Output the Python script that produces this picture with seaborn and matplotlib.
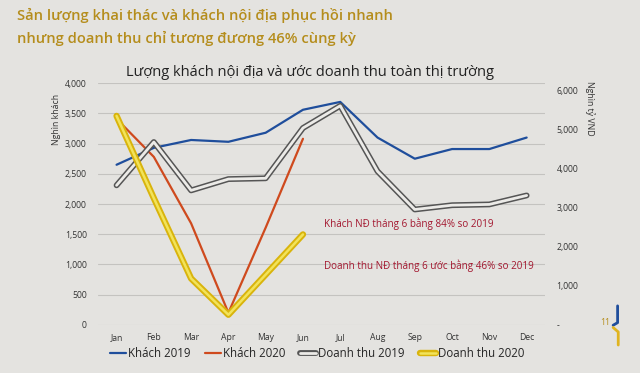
import matplotlib
matplotlib.use("Agg")
import matplotlib.pyplot as plt
from matplotlib.lines import Line2D
from matplotlib.ticker import FuncFormatter
import numpy as np
import pandas as pd
import seaborn as sns

months = ["Jan", "Feb", "Mar", "Apr", "May", "Jun",
          "Jul", "Aug", "Sep", "Oct", "Nov", "Dec"]
khach_2019 = [2650, 2930, 3060, 3030, 3180, 3560, 3690, 3100, 2750, 2910, 2910, 3100]
khach_2020 = [3410, 2780, 1680, 200, 1610, 3080]
doanhthu_2019 = [3580, 4690, 3450, 3740, 3760, 5050, 5620, 3940, 2960, 3070, 3090, 3320]
doanhthu_2020 = [5360, 3250, 1190, 260, 1290, 2320]

bg = "#e4e3e0"
gold = "#b58d1c"
red_note = "#a3172f"

sns.set_style("white", {"axes.facecolor": bg, "figure.facecolor": bg})
plt.rcParams["font.family"] = ["Open Sans", "DejaVu Sans"]

fig = plt.figure(figsize=(6.4, 3.73), dpi=100)
ax = fig.add_axes([0.153, 0.129, 0.699, 0.648])
ax2 = ax.twinx()

x_all = np.arange(12)
x_half = np.arange(6)
k19 = pd.DataFrame({"x": x_all, "v": khach_2019})
k20 = pd.DataFrame({"x": x_half, "v": khach_2020})
d19 = pd.DataFrame({"x": x_all, "v": doanhthu_2019})
d20 = pd.DataFrame({"x": x_half, "v": doanhthu_2020})

sns.lineplot(data=k19, x="x", y="v", ax=ax, color="#1f4e9c", lw=1.6)
sns.lineplot(data=k20, x="x", y="v", ax=ax, color="#cf4a1e", lw=1.6)

# double-line effect for revenue series
sns.lineplot(data=d19, x="x", y="v", ax=ax2, color="#555555", lw=4.2)
sns.lineplot(data=d19, x="x", y="v", ax=ax2, color="#ecebe8", lw=2.0)
sns.lineplot(data=d20, x="x", y="v", ax=ax2, color="#d9b40c", lw=4.6)
sns.lineplot(data=d20, x="x", y="v", ax=ax2, color="#f2e35a", lw=1.8)

ax.set_xlim(-0.5, 11.5)
ax.set_ylim(0, 4000)
ax.set_yticks(range(0, 4001, 500))
ax.yaxis.set_major_formatter(FuncFormatter(lambda v, p: f"{int(v):,}"))
ax.set_xticks(x_all)
ax.set_xticklabels(months)
ax2.set_ylim(0, 6200)
ax2.set_yticks(range(0, 6001, 1000))
ax2.yaxis.set_major_formatter(FuncFormatter(lambda v, p: "-" if v == 0 else f"{int(v):,}"))

ax.grid(axis="y", color="#c4c3c0", lw=0.8)
ax.set_axisbelow(True)
for a in (ax, ax2):
    for s in a.spines.values():
        s.set_visible(False)
    a.tick_params(length=0, labelsize=6.2, colors="#333333")
    a.set_xlabel("")
    a.set_ylabel("")
ax.tick_params(axis="y", pad=8)
ax.tick_params(axis="x", pad=6)
ax2.tick_params(axis="y", pad=8)

fig.text(0.088, 0.68, "Nghìn khách", rotation=90, ha="center", va="center",
         fontsize=6.3, color="#333333")
fig.text(0.922, 0.71, "Nghìn tỷ VND", rotation=270, ha="center", va="center",
         fontsize=6.3, color="#333333")

fig.text(0.027, 0.958, "Sản lượng khai thác và khách nội địa phục hồi nhanh",
         fontsize=10.6, color=gold, fontweight="semibold", va="center")
fig.text(0.027, 0.898, "nhưng doanh thu chỉ tương đương 46% cùng kỳ",
         fontsize=10.6, color=gold, fontweight="semibold", va="center")
fig.text(0.485, 0.805, "Lượng khách nội địa và ước doanh thu toàn thị trường",
         fontsize=10.5, color="#222222", ha="center", va="center")

fig.text(0.506, 0.4, "Khách NĐ tháng 6 bằng 84% so 2019",
         fontsize=7.1, color=red_note, va="center")
fig.text(0.506, 0.287, "Doanh thu NĐ tháng 6 ước bằng 46% so 2019",
         fontsize=7.1, color=red_note, va="center")
fig.text(0.945, 0.135, "11", fontsize=6.3, color=gold, ha="center", va="center")

# small slide logo marks at bottom right
fig.add_artist(Line2D([0.965, 0.965, 0.958], [0.18, 0.135, 0.128],
                      transform=fig.transFigure, color="#1f4e9c", lw=2))
fig.add_artist(Line2D([0.958, 0.966, 0.966], [0.122, 0.11, 0.075],
                      transform=fig.transFigure, color="#e0b420", lw=2))

handles = [
    Line2D([], [], color="#1f4e9c", lw=1.6),
    Line2D([], [], color="#cf4a1e", lw=1.6),
    (Line2D([], [], color="#555555", lw=4.2), Line2D([], [], color="#ecebe8", lw=2.0)),
    (Line2D([], [], color="#d9b40c", lw=4.6), Line2D([], [], color="#f2e35a", lw=1.8)),
]
labels = ["Khách 2019", "Khách 2020", "Doanh thu 2019", "Doanh thu 2020"]
fig.legend(handles, labels, loc="center", bbox_to_anchor=(0.495, 0.052), ncol=4,
           frameon=False, fontsize=8.3, handlelength=1.4, handletextpad=0.15,
           columnspacing=1.3)

fig.savefig("out.png", dpi=100, facecolor=bg)
